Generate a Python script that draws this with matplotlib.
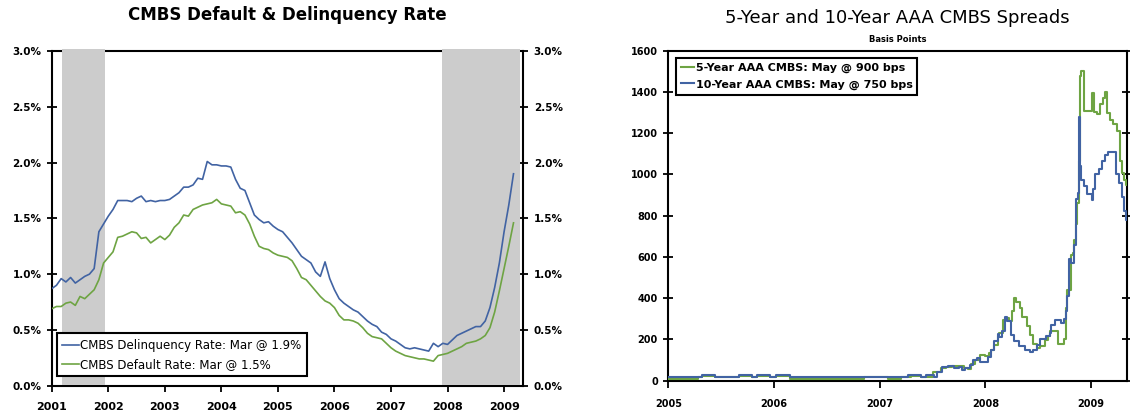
import numpy as np
import matplotlib
matplotlib.use("Agg")
import matplotlib.pyplot as plt
from matplotlib import ticker as tick

# CMBS delinquency and default rates, monthly Jan 2001 - Mar 2009 (%)
delinq = [0.87, 0.90, 0.96, 0.93, 0.97, 0.92, 0.95, 0.98, 1.00, 1.05, 1.38, 1.45,
          1.52, 1.58, 1.66, 1.66, 1.66, 1.65, 1.68, 1.70, 1.65, 1.66, 1.65, 1.66,
          1.66, 1.67, 1.70, 1.73, 1.78, 1.78, 1.80, 1.86, 1.85, 2.01, 1.98, 1.98,
          1.97, 1.97, 1.96, 1.85, 1.77, 1.75, 1.64, 1.53, 1.49, 1.46, 1.47, 1.43,
          1.40, 1.38, 1.33, 1.28, 1.22, 1.16, 1.13, 1.10, 1.02, 0.98, 1.11, 0.96,
          0.86, 0.78, 0.74, 0.71, 0.68, 0.66, 0.62, 0.58, 0.55, 0.53, 0.48, 0.46,
          0.42, 0.40, 0.37, 0.34, 0.33, 0.34, 0.33, 0.32, 0.31, 0.38, 0.35, 0.38,
          0.37, 0.41, 0.45, 0.47, 0.49, 0.51, 0.53, 0.53, 0.58, 0.70, 0.88, 1.10,
          1.38, 1.62, 1.90]
default = [0.69, 0.71, 0.71, 0.74, 0.75, 0.72, 0.80, 0.78, 0.82, 0.86, 0.95, 1.10,
           1.15, 1.20, 1.33, 1.34, 1.36, 1.38, 1.37, 1.32, 1.33, 1.28, 1.31, 1.34,
           1.31, 1.35, 1.42, 1.46, 1.53, 1.52, 1.58, 1.60, 1.62, 1.63, 1.64, 1.67,
           1.63, 1.62, 1.61, 1.55, 1.56, 1.53, 1.45, 1.34, 1.25, 1.23, 1.22, 1.19,
           1.17, 1.16, 1.15, 1.12, 1.05, 0.97, 0.95, 0.90, 0.85, 0.80, 0.76, 0.74,
           0.70, 0.63, 0.59, 0.59, 0.58, 0.56, 0.52, 0.47, 0.44, 0.43, 0.42, 0.38,
           0.34, 0.31, 0.29, 0.27, 0.26, 0.25, 0.24, 0.24, 0.23, 0.22, 0.27, 0.28,
           0.29, 0.31, 0.33, 0.35, 0.38, 0.39, 0.40, 0.42, 0.45, 0.52, 0.66, 0.85,
           1.05, 1.25, 1.46]
recessions = [(2001.18, 2001.94), (2007.90, 2009.28)]

# AAA CMBS spreads (bps), step changes as (decimal year, value)
t10 = [2005.00, 2005.32, 2005.44, 2005.67, 2005.79, 2005.84, 2005.96, 2006.02, 2006.15,
       2007.27, 2007.39, 2007.44, 2007.51, 2007.54, 2007.59, 2007.65, 2007.70, 2007.75,
       2007.78, 2007.81, 2007.85, 2007.88, 2007.92, 2007.95, 2008.02, 2008.05, 2008.08,
       2008.12, 2008.13, 2008.16, 2008.18, 2008.20, 2008.24, 2008.27, 2008.32, 2008.37,
       2008.42, 2008.45, 2008.49, 2008.52, 2008.57, 2008.61, 2008.62, 2008.66, 2008.71,
       2008.74, 2008.76, 2008.77, 2008.79, 2008.81, 2008.84, 2008.86, 2008.875, 2008.884,
       2008.89, 2008.90, 2008.93, 2008.96, 2009.01, 2009.02, 2009.04, 2009.07, 2009.10,
       2009.13, 2009.16, 2009.21, 2009.23, 2009.26, 2009.29, 2009.31, 2009.33, 2009.345]
s10 = [18, 28, 18, 28, 18, 28, 18, 28, 18,
       28, 18, 28, 18, 40, 65, 70, 60, 65,
       50, 60, 75, 100, 110, 90, 115, 150, 190,
       225, 210, 240, 310, 290, 220, 190, 170, 150,
       140, 150, 175, 200, 215, 230, 270, 295, 280,
       300, 340, 410, 590, 570, 660, 880, 910, 1281,
       1040, 975, 945, 905, 875, 930, 1003, 1025, 1063,
       1095, 1110, 1110, 1003, 960, 890, 825, 780, 750]
t5 = [2005.00, 2005.28, 2005.32, 2005.44, 2005.67, 2005.79, 2005.84, 2005.96, 2006.02,
      2006.15, 2006.85, 2007.08, 2007.20, 2007.30, 2007.39, 2007.50, 2007.58, 2007.63,
      2007.68, 2007.75, 2007.80, 2007.83, 2007.86, 2007.90, 2007.95, 2008.00, 2008.03,
      2008.05, 2008.08, 2008.12, 2008.13, 2008.17, 2008.20, 2008.22, 2008.25, 2008.27,
      2008.29, 2008.33, 2008.35, 2008.39, 2008.42, 2008.45, 2008.49, 2008.52, 2008.56,
      2008.59, 2008.61, 2008.69, 2008.72, 2008.74, 2008.76, 2008.77, 2008.81, 2008.83,
      2008.84, 2008.86, 2008.87, 2008.884, 2008.89, 2008.90, 2008.93, 2009.01, 2009.03,
      2009.05, 2009.08, 2009.11, 2009.13, 2009.15, 2009.18, 2009.21, 2009.24, 2009.27,
      2009.29, 2009.31, 2009.33, 2009.345]
s5 = [8, 18, 25, 18, 25, 18, 25, 18, 25,
      8, 18, 8, 18, 25, 18, 40, 60, 65,
      70, 70, 60, 55, 80, 100, 125, 120, 135,
      150, 175, 215, 230, 295, 305, 290, 340, 400,
      380, 350, 310, 265, 220, 180, 160, 170, 195,
      215, 240, 180, 180, 200, 350, 440, 610, 620,
      680, 760, 860, 1063, 1475, 1500, 1310, 1393, 1302,
      1295, 1340, 1370, 1400, 1300, 1262, 1245, 1213, 1063,
      1006, 975, 950, 900]

blue = '#4163a3'
green = '#6ea443'
F = 8

fig = plt.figure(figsize=(11.3, 4.15), dpi=100)

# ---- left panel: default & delinquency rates ----
ax1 = fig.add_axes([0.0458, 0.0706, 0.4173, 0.8064])
t = 2001 + np.arange(len(delinq)) / 12.0
for a, b in recessions:
    ax1.axvspan(a, b, ymin=0.003, ymax=1.006, color='#cccccc', lw=0, zorder=2.6, clip_on=False)
ax1.plot(t, delinq, color=blue, lw=1.2, zorder=3, label='CMBS Delinquency Rate: Mar @ 1.9%')
ax1.plot(t, default, color=green, lw=1.2, zorder=3, label='CMBS Default Rate: Mar @ 1.5%')
ax1.set_xlim(2001.0, 2009.34)
ax1.set_ylim(0, 3.0)
ax1.set_xticks(range(2001, 2010))
ax1.xaxis.set_major_formatter(tick.FormatStrFormatter('%d'))
ax1.yaxis.set_major_locator(tick.MultipleLocator(0.5))
ax1.yaxis.set_major_formatter(tick.FormatStrFormatter('%.1f%%'))
ax1.tick_params(axis='y', which='both', direction='inout', length=7, width=1.3,
                right=True, labelright=True, labelsize=F - 0.5, pad=4)
ax1.tick_params(axis='x', direction='out', length=4, width=1.3, labelsize=F, pad=8)
for lab in ax1.get_xticklabels() + ax1.get_yticklabels():
    lab.set_fontweight('bold')
for sp in ax1.spines.values():
    sp.set_linewidth(1.5)
ax1.set_title('CMBS Default & Delinquency Rate', fontsize=12, fontweight='bold', pad=22)
leg1 = ax1.legend(loc='lower left', bbox_to_anchor=(0.011, 0.029), fontsize=8.5, frameon=True,
                  fancybox=False, edgecolor='black', framealpha=1, handlelength=1.4,
                  handletextpad=0.1, borderpad=0.45, labelspacing=0.5, borderaxespad=0)
leg1.get_frame().set_linewidth(1.5)
leg1.set_zorder(5)

# ---- right panel: AAA CMBS spreads ----
ax2 = fig.add_axes([0.5914, 0.0827, 0.4061, 0.7951])
ax2.plot(t5, s5, color=green, lw=1.5, drawstyle='steps-post', zorder=3,
         label='5-Year AAA CMBS: May @ 900 bps')
ax2.plot(t10, s10, color=blue, lw=1.5, drawstyle='steps-post', zorder=3,
         label='10-Year AAA CMBS: May @ 750 bps')
ax2.set_xlim(2005.0, 2009.34)
ax2.set_ylim(0, 1600)
ax2.set_xticks(range(2005, 2010))
ax2.xaxis.set_major_formatter(tick.FormatStrFormatter('%d'))
ax2.yaxis.set_major_locator(tick.MultipleLocator(200))
ax2.tick_params(axis='y', direction='inout', length=7, width=1.3, right=True,
                labelsize=F - 1, pad=4)
ax2.tick_params(axis='x', direction='out', length=5, width=1.3, labelsize=F - 1, pad=8)
for lab in ax2.get_xticklabels() + ax2.get_yticklabels():
    lab.set_fontweight('bold')
for sp in ax2.spines.values():
    sp.set_linewidth(1.5)
ax2.set_title('5-Year and 10-Year AAA CMBS Spreads', fontsize=13, pad=20)
ax2.text(0.5, 1.02, 'Basis Points', transform=ax2.transAxes, ha='center', va='bottom',
         fontsize=6, fontweight='bold')
leg2 = ax2.legend(loc='upper left', bbox_to_anchor=(0.017, 0.978), frameon=True,
                  fancybox=False, edgecolor='black', framealpha=1, handlelength=1.2,
                  handletextpad=0.1, borderpad=0.45, labelspacing=0.55, borderaxespad=0,
                  prop={'size': F, 'weight': 'bold'})
leg2.get_frame().set_linewidth(1.5)

plt.savefig('out.png', dpi=100)
